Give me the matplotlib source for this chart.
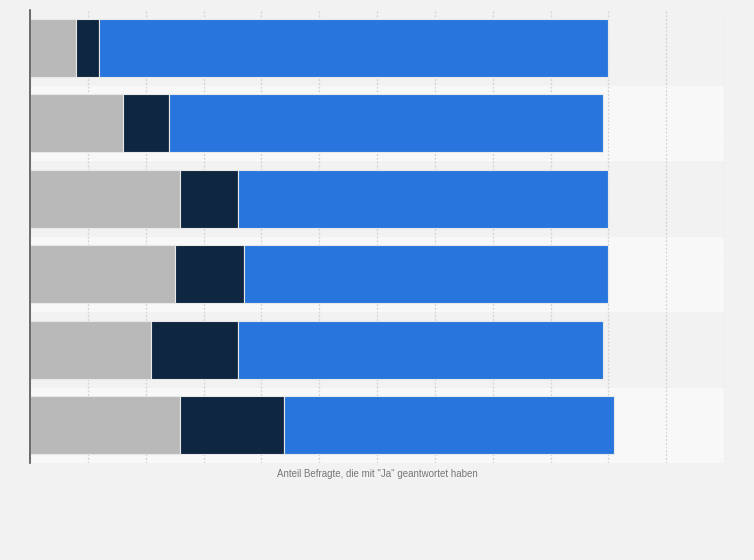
import matplotlib
matplotlib.use("Agg")
import matplotlib.pyplot as plt
import numpy as np

# Data (percent), top row first
categories = ["1", "2", "3", "4", "5", "6"]
series_gray = [8, 16, 26, 25, 21, 26]
series_dark = [4, 8, 10, 12, 15, 18]
series_blue = [88, 75, 64, 63, 63, 57]
x_ticks = list(range(0, 121, 10))
x_label = 'Anteil Befragte, die mit "Ja" geantwortet haben'

colors = ["#b9b9b9", "#0f2640", "#2876dd"]

fig = plt.figure(figsize=(7.54, 5.60), dpi=100, facecolor="#f2f2f2")
ax = fig.add_axes([30 / 754, 1 - 463 / 560, (724 - 30) / 754, (463 - 10) / 560])
ax.set_facecolor("#f2f2f2")

n = len(categories)
y = np.arange(n)
ax.set_ylim(n - 0.5, -0.5)
ax.set_xlim(0, 120)

# Alternating row bands
for i in range(n):
    ax.axhspan(i - 0.5, i + 0.5, color="#f2f2f2" if i % 2 == 0 else "#f8f8f8", zorder=0, lw=0)

for t in x_ticks:
    ax.axvline(t, color="#d2d2d2", lw=0.9, ls=(0, (1.5, 1.5)), zorder=1)

left = np.zeros(n)
for vals, c in zip([series_gray, series_dark, series_blue], colors):
    ax.barh(y, vals, left=left, height=0.77, color=c, edgecolor="#e8e8e8", linewidth=0.8, zorder=2)
    left += np.array(vals)

ax.set_xticks(x_ticks)
ax.set_yticks(y)
ax.tick_params(left=False, bottom=False, labelleft=False, labelbottom=False)
for s in ["top", "right", "bottom"]:
    ax.spines[s].set_visible(False)
ax.spines["left"].set_color("#555555")
ax.spines["left"].set_linewidth(1.2)
ax.spines["left"].set_zorder(3)

fig.text((30 + 724) / 2 / 754, 1 - 474 / 560, x_label, ha="center", va="center",
         fontsize=7, color="#777777", family="Liberation Sans")

fig.savefig("out.png", dpi=100, facecolor=fig.get_facecolor())
